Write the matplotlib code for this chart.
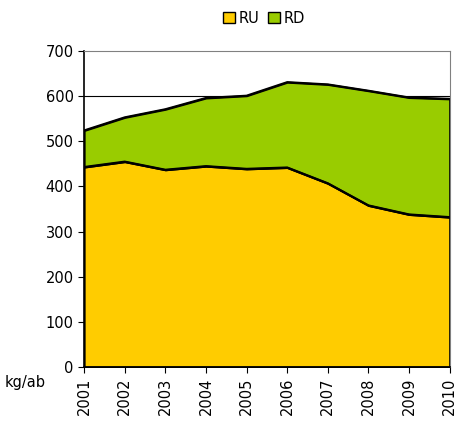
import matplotlib.pyplot as plt
import numpy as np
from matplotlib.patches import Patch

years = [2001, 2002, 2003, 2004, 2005, 2006, 2007, 2008, 2009, 2010]
ru = [443, 455, 437, 445, 439, 442, 407, 358, 338, 332]
total = [524, 553, 571, 596, 601, 631, 626, 612, 597, 594]
rd = [t - u for t, u in zip(total, ru)]

fig = plt.figure(figsize=(4.57, 4.25), dpi=100)
ax = fig.add_axes([0.184, 0.1365, 0.800, 0.7435])

x = np.array(years)
ax.stackplot(x, ru, rd, colors=['#FFCC00', '#99CC00'], edgecolor='black', linewidth=1.5)
ax.plot(x, ru, color='black', lw=1.5)
ax.plot(x, total, color='black', lw=1.5)

ax.set_xlim(2001, 2010)
ax.set_ylim(0, 700)
ax.set_yticks(range(0, 701, 100))
ax.set_xticks(years)
ax.set_xticklabels([str(y) for y in years], rotation=90)
ax.axhline(600, color='black', lw=0.8, zorder=0.5)

for s in ['top', 'right']:
    ax.spines[s].set_color('#808080')
ax.spines['left'].set_color('black')
ax.spines['bottom'].set_color('black')
ax.spines['left'].set_linewidth(1.2)
ax.spines['bottom'].set_linewidth(1.2)
ax.tick_params(labelsize=10.5, length=4, color='black')

# unit label under the y axis
fig.text(0.01, 0.1, 'kg/ab', fontsize=10.5, va='center', ha='left')

handles = [Patch(facecolor='#FFCC00', edgecolor='black'),
           Patch(facecolor='#99CC00', edgecolor='black')]
fig.legend(handles, ['RU', 'RD'], loc='center', bbox_to_anchor=(0.578, 0.957), ncol=2,
           frameon=False, fontsize=10.5, handlelength=0.8, handleheight=0.8,
           handletextpad=0.25, columnspacing=0.6)

fig.savefig('out.png', dpi=100)
